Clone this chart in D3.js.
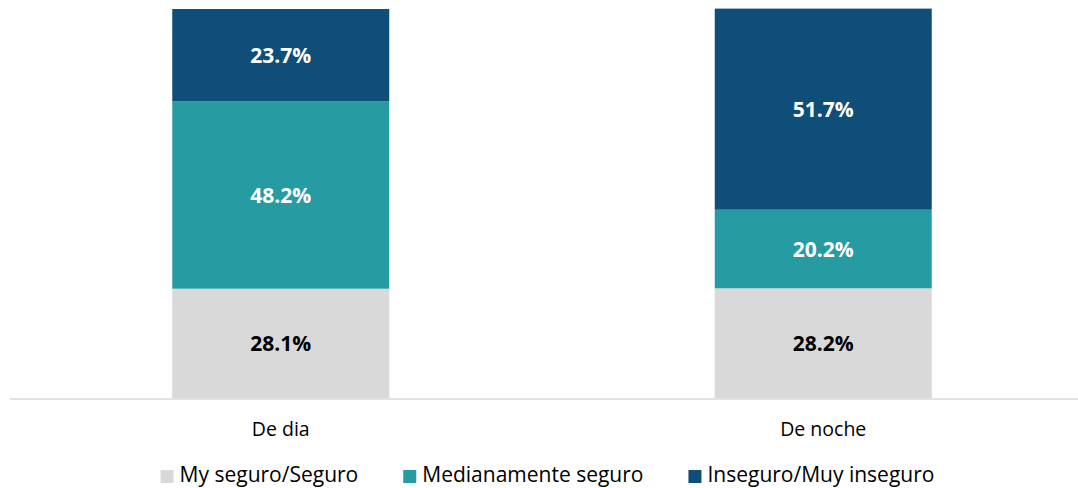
<!DOCTYPE html>
<html>
<head>
<meta charset="utf-8">
<script src="https://cdn.jsdelivr.net/npm/d3@7"></script>
<style>
  html, body { margin: 0; padding: 0; background: #fff; }
  svg { display: block; font-family: "Open Sans", "Noto Sans", sans-serif; }
</style>
</head>
<body>
<svg id="chart" width="1078" height="488"></svg>
<script>
const categories = ["De dia", "De noche"];
const seriesNames = ["My seguro/Seguro", "Medianamente seguro", "Inseguro/Muy inseguro"];
const seguro = [28.1, 28.2];
const medianamente = [48.2, 20.2];
const inseguro = [23.7, 51.7];
const seriesColors = ["#d9d9d9", "#279ba2", "#0f4e78"];
const labelColors = ["#000000", "#ffffff", "#ffffff"];

const svg = d3.select("#chart");

const x = d3.scaleBand().domain(categories).range([9.5, 1094.5]).paddingInner(0.6).paddingOuter(0.3);
const y = d3.scaleLinear().domain([0, 100]).range([398, 9]);

const rows = categories.map((c, i) => ({ cat: c, s0: seguro[i], s1: medianamente[i], s2: inseguro[i] }));
const stacked = d3.stack().keys(["s0", "s1", "s2"])(rows);

const g = svg.append("g");
stacked.forEach((layer, li) => {
  g.selectAll(null).data(layer).enter().append("rect")
    .attr("x", d => x(d.data.cat))
    .attr("width", x.bandwidth())
    .attr("y", d => y(d[1]))
    .attr("height", d => y(d[0]) - y(d[1]))
    .attr("fill", seriesColors[li]);
  g.selectAll(null).data(layer).enter().append("text")
    .attr("x", d => x(d.data.cat) + x.bandwidth() / 2)
    .attr("y", d => (y(d[0]) + y(d[1])) / 2 + 8)
    .attr("text-anchor", "middle")
    .attr("font-size", "21px")
    .attr("font-weight", "bold")
    .attr("fill", labelColors[li])
    .text(d => (d[1] - d[0]).toFixed(1) + "%");
});

const axis = svg.append("g").attr("transform", "translate(0,398.5)")
  .call(d3.axisBottom(x).tickSize(0).tickSizeOuter(0).tickPadding(24));
axis.select(".domain").attr("stroke", "#d9d9d9").attr("stroke-width", 1.5);
axis.selectAll("text").attr("font-size", "19.5px").attr("fill", "#000")
  .attr("font-family", "'Open Sans', 'Noto Sans', sans-serif");

// legend
const legend = svg.append("g");
const items = legend.selectAll("g").data(seriesNames).enter().append("g");
items.append("rect").attr("width", 13).attr("height", 13).attr("y", 470)
  .attr("fill", (d, i) => seriesColors[i]);
items.append("text").attr("x", 19).attr("y", 482).attr("font-size", "21px").attr("fill", "#000")
  .text(d => d);
let widths = [];
items.each(function () { widths.push(19 + d3.select(this).select("text").node().getComputedTextLength()); });
const gap = 45;
const total = d3.sum(widths) + gap * (widths.length - 1);
let cx = 547.5 - total / 2;
items.each(function (d, i) {
  d3.select(this).attr("transform", `translate(${cx},0)`);
  cx += widths[i] + gap;
});
</script>
</body>
</html>
